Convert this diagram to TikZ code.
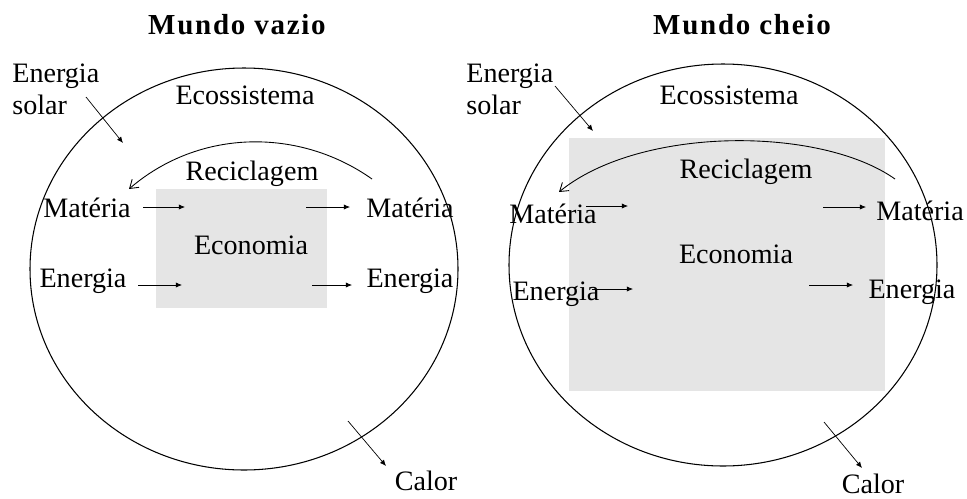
\documentclass[tikz,border=0pt]{standalone}
\usepackage{fontspec}
\setmainfont{Liberation Serif}
\usepackage{tikz}
\usetikzlibrary{arrows.meta}

\tikzset{
  lbl/.style={font=\fontsize{16}{18}\selectfont, inner sep=0pt},
  ttl/.style={font=\fontsize{16.5}{18}\selectfont\bfseries\addfontfeature{LetterSpace=6}, inner sep=0pt},
  flow/.style={-{Latex[length=3.5pt,width=3pt]}, line width=0.4pt},
  recyc/.style={-{Straight Barb[length=4.5pt,width=6pt]}, line width=0.5pt},
  eco/.style={line width=0.6pt},
  econbox/.style={fill=black!10, draw=none}
}

\begin{document}
\begin{tikzpicture}[x=0.02cm,y=-0.02cm]
\useasboundingbox (0,0) rectangle (967,498);
% ---------------- Mundo vazio
\fill[econbox] (156,189) rectangle (327,308);%Economia
\draw[eco] (244,269) ellipse [x radius=214, y radius=201];%Ecossistema
\node[ttl, anchor=base] (titleL) at (237,34) {Mundo vazio};
\node[lbl, anchor=north west, align=left] (solarL) at (12,64) {Energia\\solar};
\node[lbl, anchor=base] (ecoL) at (245,104) {Ecossistema};
\node[lbl, anchor=base] (recL) at (252,180) {Reciclagem};
\node[lbl, anchor=base] (econL) at (251,254) {Economia};
\node[lbl, anchor=base] (matLin) at (87,217) {Matéria};
\node[lbl, anchor=base] (matLout) at (410,217) {Matéria};
\node[lbl, anchor=base] (enLin) at (83,287) {Energia};
\node[lbl, anchor=base] (enLout) at (410,287) {Energia};
\node[lbl, anchor=base] (calL) at (426,490) {Calor};
\coordinate (sunLa) at (86,97);   \coordinate (sunLb) at (123,143);
\coordinate (recLa) at (372,179); \coordinate (recLb) at (129,189);
\coordinate (matLa) at (143,207); \coordinate (matLb) at (185,207);
\coordinate (matLc) at (306,207); \coordinate (matLd) at (350,207);
\coordinate (enLa) at (138,285);  \coordinate (enLb) at (182,285);
\coordinate (enLc) at (312,285);  \coordinate (enLd) at (352,285);
\coordinate (calLa) at (348,421); \coordinate (calLb) at (386,466);
\draw[flow] (sunLa) -- (sunLb);
\draw[recyc] (recLa) .. controls (300,128) and (200,128) .. (recLb);
\draw[flow] (matLa) -- (matLb);
\draw[flow] (matLc) -- (matLd);
\draw[flow] (enLa) -- (enLb);
\draw[flow] (enLc) -- (enLd);
\draw[flow] (calLa) -- (calLb);
% ---------------- Mundo cheio
\fill[econbox] (569,138) rectangle (885,391);%Economia
\draw[eco] (723,265) ellipse [x radius=214, y radius=201];%Ecossistema
\node[ttl, anchor=base] (titleR) at (742,34) {Mundo cheio};
\node[lbl, anchor=north west, align=left] (solarR) at (466,64) {Energia\\solar};
\node[lbl, anchor=base] (ecoR) at (729,104) {Ecossistema};
\node[lbl, anchor=base] (recR) at (746,178) {Reciclagem};
\node[lbl, anchor=base] (econR) at (736,263) {Economia};
\node[lbl, anchor=base] (matRin) at (553,223) {Matéria};
\node[lbl, anchor=base] (matRout) at (920,220) {Matéria};
\node[lbl, anchor=base] (enRin) at (556,300) {Energia};
\node[lbl, anchor=base] (enRout) at (912,298) {Energia};
\node[lbl, anchor=base] (calR) at (873,493) {Calor};
\coordinate (sunRa) at (555,86);  \coordinate (sunRb) at (593,131);
\coordinate (recRa) at (895,179); \coordinate (recRb) at (559,192);
\coordinate (matRa) at (586,206); \coordinate (matRb) at (628,206);
\coordinate (matRc) at (823,207); \coordinate (matRd) at (866,207);
\coordinate (enRa) at (592,289);  \coordinate (enRb) at (633,289);
\coordinate (enRc) at (809,285);  \coordinate (enRd) at (853,285);
\coordinate (calRa) at (824,422); \coordinate (calRb) at (862,468);
\draw[flow] (sunRa) -- (sunRb);
\draw[recyc] (recRa) .. controls (820,126) and (640,126) .. (recRb);
\draw[flow] (matRa) -- (matRb);
\draw[flow] (matRc) -- (matRd);
\draw[flow] (enRa) -- (enRb);
\draw[flow] (enRc) -- (enRd);
\draw[flow] (calRa) -- (calRb);
\end{tikzpicture}
\end{document}
